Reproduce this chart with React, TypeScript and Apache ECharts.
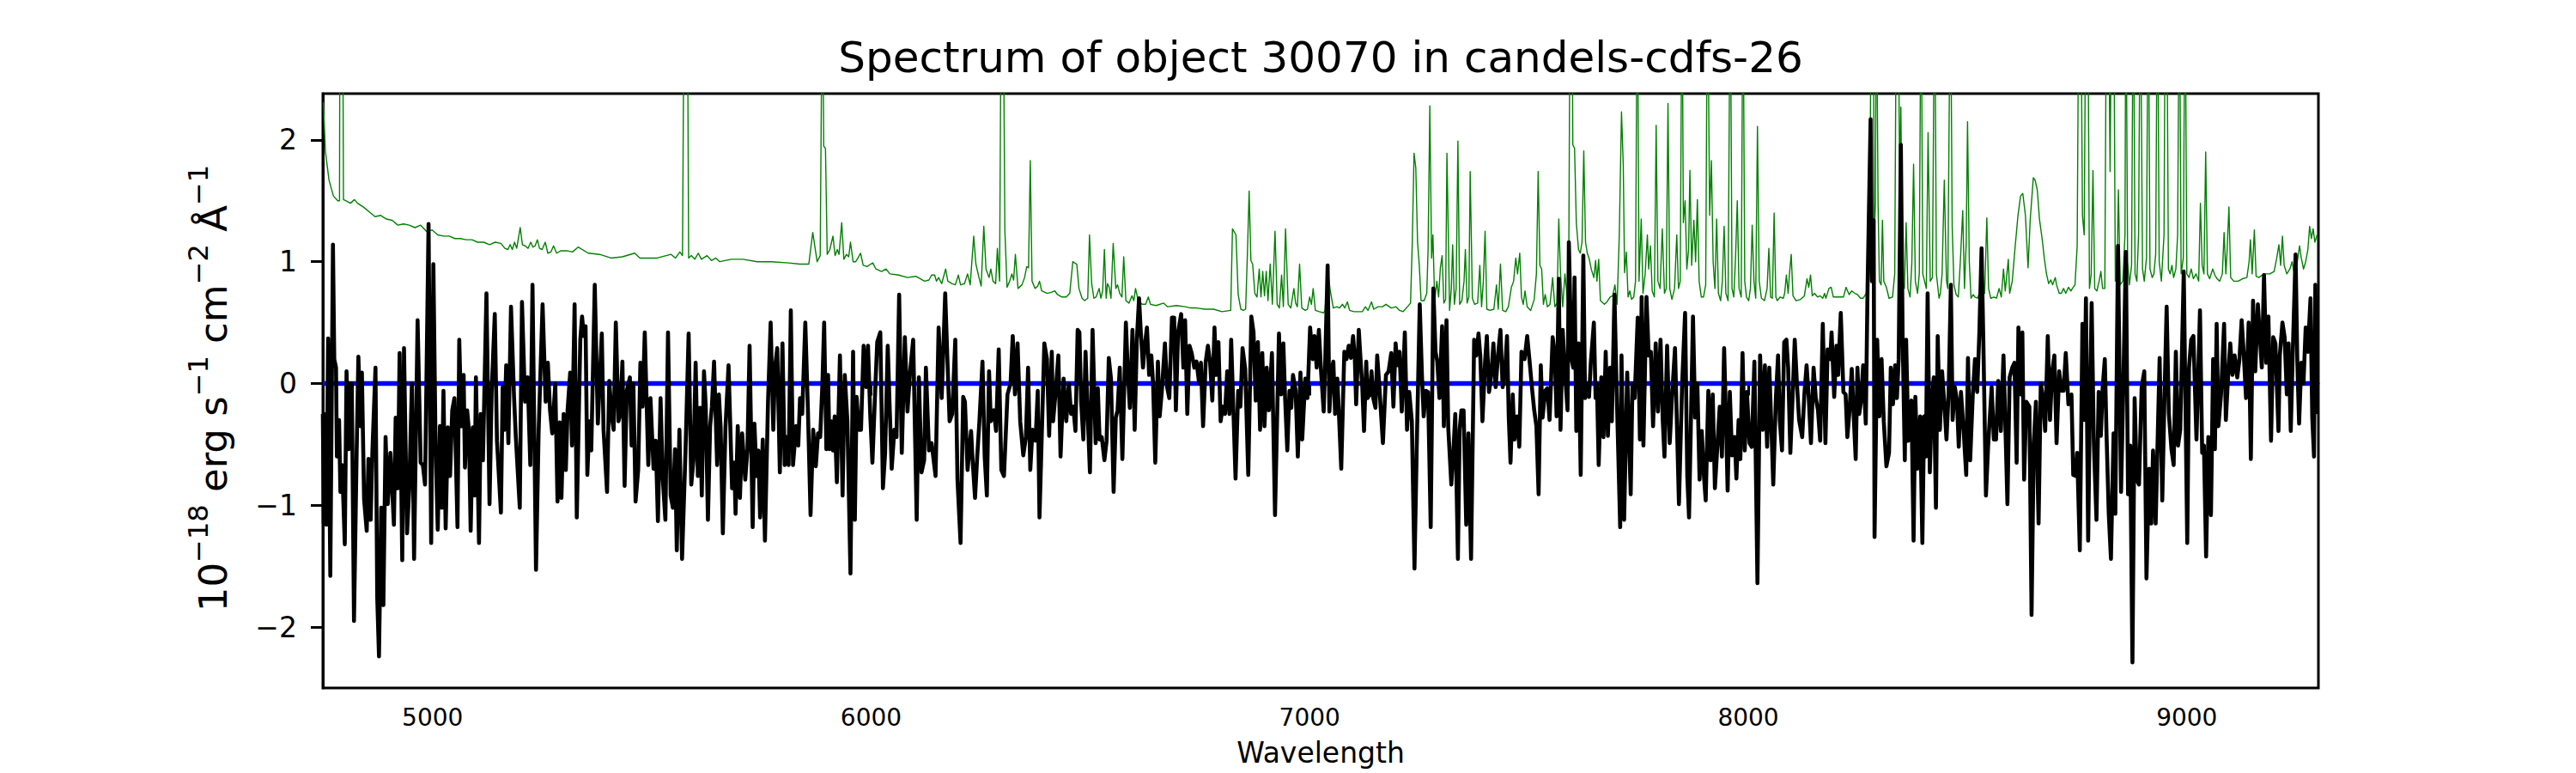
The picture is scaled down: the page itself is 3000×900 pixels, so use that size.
import React, { useEffect, useRef } from "react";
import * as echarts from "echarts";

const TITLE = "Spectrum of object 30070 in candels-cdfs-26";
const X_LABEL = "Wavelength";
const X_MIN = 4750;
const X_MAX = 9300;
const Y_MIN = -2.5;
const Y_MAX = 2.38;
const X_TICKS = [5000, 6000, 7000, 8000, 9000];
const Y_TICKS = [-2, -1, 0, 1, 2];
const ZERO_LEVEL = [[4750, 0], [9300, 0]];

// observed flux (black)
const fluxA = [[4750,-0.25],[4752,-1.15],[4756,-0.25],[4758,-1.16],[4762,0.37],[4767,-1.58],[4773,1.14],[4776,0.2],[4780,0.13],[4782,-0.6],[4787,-0.3],[4790,-0.89],[4794,-0.67],[4800,-1.32],[4804,0.10],[4809,-0.54],[4812,0.0],[4816,0.0],[4821,-1.95],[4827,-0.57],[4831,0.22],[4836,-0.35],[4839,0.09],[4844,-0.95],[4850,-1.21],[4854,-0.62],[4859,-1.12],[4863,-0.55],[4870,0.13],[4874,-1.76],[4878,-2.24],[4883,-1.02],[4888,-1.82],[4893,-0.44],[4898,-0.99],[4904,-0.57],[4912,-1.16],[4916,-0.28],[4921,-0.86],[4925,0.25],[4931,-1.45],[4935,0.29],[4942,-1.23],[4947,-0.86],[4953,0.0],[4958,-1.44],[4966,0.52],[4973,-0.65],[4978,-0.67],[4983,-0.83],[4991,1.31],[4997,-1.31],[5002,0.98],[5007,-0.51],[5012,-1.2],[5017,-0.35],[5021,-1.02],[5025,-0.06],[5030,-1.19],[5035,-0.36],[5040,-0.76],[5045,-0.22],[5050,-0.12],[5057,-1.18],[5061,0.36],[5066,-0.35],[5071,0.07],[5074,-0.69],[5079,-0.22],[5083,-0.38],[5087,-1.21],[5092,-0.36],[5096,-0.92],[5099,0.05],[5106,-1.31],[5110,-0.25],[5115,-0.63],[5123,0.74],[5130,-0.99],[5135,-0.06],[5142,0.57],[5147,-0.47],[5156,-1.06],[5160,-0.03],[5164,-0.38],[5168,0.15],[5173,-0.49],[5179,0.63],[5186,-0.12],[5190,-0.44],[5199,-1.02],[5204,0.67],[5211,-0.15],[5217,0.05],[5223,-0.67],[5228,0.81],[5236,-1.53],[5242,-0.39],[5251,0.65],[5258,-0.15],[5263,0.17],[5268,-0.22],[5273,-0.41],[5280,0],[5285,-0.97],[5290,-0.32],[5294,-0.94],[5299,-0.25],[5304,-0.71],[5308,-0.22],[5314,0.09],[5318,-0.51]];
const fluxB = [[5324,0.65],[5329,-1.1],[5337,0.36],[5341,0.55],[5345,0.39],[5349,0.47],[5353,-0.75],[5358,-0.31],[5362,-0.55],[5370,0.81],[5377,-0.33],[5386,0.41],[5390,-0.38],[5398,-0.89],[5403,0.02],[5409,-0.28],[5413,-0.38],[5418,0.50],[5424,-0.31],[5428,-0.25],[5433,0.18],[5438,-0.84],[5443,-0.06],[5450,0.05],[5454,-0.51],[5458,0.0],[5463,-0.97],[5469,-0.71],[5474,0.17],[5479,-0.19],[5484,0.42],[5492,-0.67],[5497,-0.12],[5504,-0.70],[5509,-0.47],[5514,-1.13],[5520,-0.12],[5525,-0.78],[5531,-1.12],[5537,0.42],[5543,-0.92],[5548,-1.02],[5553,-0.54],[5557,-1.37],[5563,-0.38],[5569,-1.44],[5577,-0.54],[5584,0.41],[5590,-0.83],[5595,-0.63],[5600,0.17],[5605,-0.76],[5610,-0.20],[5614,-0.92],[5619,0.10],[5623,-0.19],[5628,-1.12],[5633,-0.35],[5637,-0.19],[5642,0.18],[5649,-0.67],[5653,-0.09],[5657,-0.36],[5662,-1.23],[5668,-0.36],[5675,0.15],[5683,-0.86],[5688,-0.65],[5691,-1.07],[5696,-0.35],[5701,-0.94],[5706,-0.41],[5713,-0.79],[5718,-0.55],[5723,0.31],[5730,-1.18],[5734,-0.33],[5739,-0.76],[5743,-0.55],[5747,-1.10],[5753,-0.46],[5758,-1.29],[5765,-0.15],[5771,0.50],[5777,-0.38],[5781,0.13],[5786,0.29],[5792,-0.73],[5798,0.33],[5803,-0.67],[5807,-0.44],[5812,-0.67],[5817,0.60],[5822,-0.67],[5829,-0.35],[5834,-0.51],[5838,-0.12],[5843,-0.25],[5850,0.50],[5856,-0.22],[5862,-1.08],[5868,-0.38],[5874,-0.68],[5879,-0.41],[5884,-0.44],[5889,0.0],[5893,0.50],[5898,-0.54],[5902,0.07]];
const fluxC = [[5905,-0.54],[5910,-0.31],[5913,-0.55],[5917,-0.27],[5922,-0.81],[5929,0.23],[5935,-0.92],[5940,0.07],[5946,-0.31],[5953,-1.56],[5959,0.26],[5963,-1.12],[5967,-0.11],[5972,-0.38],[5977,-0.38],[5983,0.31],[5989,-0.03],[5993,0.31],[5998,-0.25],[6003,-0.65],[6010,0],[6014,0.34],[6021,0.42],[6027,-0.86],[6032,-0.57],[6038,0.31],[6042,-0.15],[6047,-0.70],[6053,-0.38],[6058,-0.44],[6064,0.73],[6070,-0.57],[6077,0.38],[6083,-0.23],[6089,0.10],[6096,0.36],[6104,-1.12],[6109,0.05],[6115,-0.73],[6121,-0.63],[6125,0.13],[6132,-0.55],[6138,-0.49],[6147,-0.76],[6154,0.46],[6161,-0.12],[6169,0.74],[6174,0.20],[6179,-0.31],[6185,-0.25],[6192,0.36],[6197,-0.79],[6204,-1.31],[6210,-0.11],[6214,-0.15],[6220,-0.71],[6228,-0.39],[6231,-0.60],[6237,-0.94],[6242,-0.60],[6247,-0.31],[6254,0.18],[6259,-0.60],[6264,-0.92],[6269,0.10],[6273,-0.31],[6280,-0.22],[6285,-0.39],[6291,0.28],[6297,-0.71],[6303,-0.76],[6311,-0.09],[6318,0],[6323,0.39],[6328,-0.09],[6334,0.33],[6340,-0.31],[6347,-0.59],[6353,-0.44],[6358,0.13],[6363,-0.71],[6368,-0.38],[6375,-0.47],[6380,-0.06],[6384,-1.10],[6395,0.33],[6401,0.20],[6406,-0.43],[6412,0.26],[6415,-0.31],[6421,-0.06],[6427,0.23],[6432,-0.60],[6439,0.04],[6445,-0.31],[6451,0],[6456,-0.25]];
const fluxD = [[6461,-0.19],[6466,-0.39],[6471,0.44],[6475,0.42],[6479,-0.15],[6484,-0.46],[6489,0.26],[6494,-0.27],[6499,-0.73],[6505,0.44],[6512,-0.49],[6517,-0.04],[6521,-0.46],[6526,-0.44],[6532,-0.63],[6537,-0.47],[6542,0.21],[6547,0.04],[6553,-0.89],[6558,-0.28],[6562,-0.22],[6567,0.13],[6573,-0.62],[6581,0.50],[6585,0.13],[6590,-0.20],[6596,0.44],[6601,-0.38],[6606,0.36],[6611,0.70],[6615,0.42],[6620,0.13],[6624,0.31],[6629,0.46],[6634,0.07],[6639,0.23],[6643,0],[6648,-0.65],[6654,0.18],[6658,-0.27],[6663,-0.06],[6670,0.33],[6675,-0.03],[6680,-0.12],[6686,0.54],[6691,0.54],[6695,-0.22],[6700,0.42],[6707,0.57],[6712,0.13],[6716,0.52],[6721,-0.25],[6726,0.31],[6731,0.25],[6737,0.13],[6742,0.18],[6748,0],[6752,0.17],[6757,-0.35],[6763,0.18],[6768,0.31],[6773,0.17],[6778,-0.14],[6783,0.46],[6787,0.07],[6792,0.34],[6797,-0.31],[6802,-0.19],[6807,-0.25],[6812,0.10],[6817,-0.25],[6821,0.36],[6825,-0.09],[6831,-0.78],[6837,-0.06],[6842,-0.19],[6847,0.29],[6853,0.12],[6860,-0.75],[6867,0.55],[6872,0.42],[6877,-0.14],[6882,0.34],[6887,-0.38],[6892,0.25],[6897,-0.35],[6902,0.13],[6907,-0.22],[6914,0.25],[6921,-1.08],[6930,0.41],[6935,-0.09],[6940,0.33],[6944,-0.12],[6949,-0.55],[6954,-0.06],[6958,-0.20],[6962,0.07],[6968,-0.06],[6973,-0.60],[6979,0.09],[6983,-0.46],[6990,0.04],[6995,-0.12],[7001,0.46],[7007,0.20],[7011,0.39],[7016,0.13],[7021,0.44],[7026,0.10]];
const fluxE = [[7032,-0.23],[7035,0.12],[7041,0.97],[7045,-0.23],[7050,0.10],[7054,0.18],[7058,-0.25],[7063,0.04],[7067,-0.27],[7072,-0.70],[7079,0.26],[7084,0.20],[7089,0.31],[7094,0.21],[7099,0.39],[7103,0.20],[7106,-0.17],[7112,0.44],[7116,0.20],[7120,-0.03],[7124,-0.39],[7129,0.18],[7132,-0.12],[7137,-0.09],[7141,0.10],[7145,-0.12],[7150,-0.20],[7154,0.23],[7159,-0.03],[7167,-0.49],[7174,0.07],[7180,0.10],[7186,0.25],[7191,-0.19],[7196,0.33],[7200,0.15],[7205,0.26],[7210,-0.23],[7217,0.42],[7222,-0.38],[7227,-0.07],[7233,-0.31],[7239,-1.52],[7244,-0.55],[7251,0.65],[7256,0.07],[7260,-0.27],[7265,-0.06],[7270,-0.07],[7276,-1.18],[7282,0.78],[7287,0.26],[7291,0.18],[7296,-0.12],[7302,0.47],[7306,-0.35],[7312,0.52],[7316,-0.36],[7323,-0.83],[7328,-0.54],[7332,-0.25],[7338,-1.44],[7342,-0.38],[7346,-0.22],[7351,-0.22],[7357,-1.16],[7362,-0.41],[7368,-1.44],[7375,0.36],[7380,0.23],[7385,0.41],[7389,0.23],[7394,-0.31],[7400,0.18],[7404,0.39],[7409,-0.07],[7414,0.07],[7419,0.33],[7424,-0.03],[7430,0.25],[7435,0.44],[7440,-0.03],[7445,0.07],[7450,0.39],[7454,-0.28],[7458,-0.65],[7463,-0.09],[7467,-0.46],[7473,-0.27],[7478,-0.52],[7483,0.26],[7490,0.20],[7496,0.39],[7501,0.20],[7507,-0.04],[7512,-0.22],[7517,-0.35],[7522,-0.91],[7527,0.15],[7531,-0.28],[7537,-0.06],[7542,-0.04],[7547,-0.30],[7554,0.38],[7559,0.23],[7563,-0.27],[7568,0.86],[7572,-0.38],[7577,0.44],[7582,0.10],[7588,-0.22],[7591,1.16],[7597,0.20]];
const fluxF = [[7601,0.13],[7604,0.87],[7608,-0.39],[7613,0.33],[7618,-0.75],[7624,1.05],[7628,-0.12],[7632,0],[7637,-0.11],[7641,0.17],[7648,0.50],[7652,-0.12],[7655,0],[7659,-0.67],[7665,0.05],[7670,-0.44],[7675,0.26],[7680,-0.43],[7685,0.13],[7689,-0.31],[7695,0.73],[7700,-0.06],[7708,-1.18],[7711,0.23],[7717,-1.12],[7724,0.09],[7732,-0.91],[7736,0],[7741,-0.12],[7748,0.54],[7753,-0.46],[7757,0.71],[7761,-0.51],[7768,0.71],[7773,0.23],[7778,0.26],[7783,-0.35],[7789,0.33],[7794,-0.23],[7800,0.36],[7805,-0.30],[7809,-0.60],[7815,0.31],[7821,-0.49],[7826,-0.12],[7833,0.29],[7842,-0.99],[7849,-0.03],[7856,0.58],[7861,-0.76],[7865,-1.10],[7874,0.55],[7879,-0.28],[7884,0],[7889,-0.79],[7894,-0.39],[7899,-0.76],[7903,-0.96],[7909,-0.06],[7914,-0.63],[7919,-0.09],[7924,-0.86],[7929,-0.55],[7935,-0.19],[7940,-0.60],[7945,0.29],[7949,-0.25],[7953,-0.88],[7958,-0.07],[7963,-0.59],[7969,-0.44],[7973,-0.78],[7978,-0.30],[7982,-0.62],[7987,0.25],[7992,-0.55],[7997,-0.07],[8003,-0.49],[8008,-0.52],[8014,0.18],[8021,-1.64],[8027,0.23],[8033,-0.38],[8038,0.15],[8043,-0.52],[8048,0.13],[8053,-0.38],[8057,-0.83],[8063,-0.12],[8068,0.23],[8072,-0.31],[8077,-0.55],[8082,0.34],[8087,0.36],[8091,0.13],[8096,-0.57],[8102,-0.03],[8106,0.36],[8111,0],[8116,-0.30],[8123,-0.44],[8128,-0.09],[8133,0.15],[8138,-0.12],[8143,-0.49],[8149,0.13],[8154,-0.12],[8159,-0.22],[8164,-0.47],[8170,0.49]];
const fluxG = [[8176,-0.49],[8181,0.28],[8187,0.20],[8190,0.42],[8196,-0.11],[8201,0.31],[8205,0.07],[8211,0.58],[8217,-0.07],[8222,-0.09],[8226,-0.44],[8231,-0.22],[8236,0.12],[8241,-0.31],[8245,-0.62],[8249,0.13],[8253,-0.25],[8257,-0.15],[8262,0.15],[8268,-0.33],[8272,0.78],[8279,2.17],[8282,0.84],[8286,1.34],[8288,-1.26],[8294,0.36],[8299,-0.27],[8304,0.20],[8309,-0.31],[8315,-0.68],[8321,-0.57],[8325,0.13],[8330,-0.17],[8335,0.15],[8339,-0.12],[8343,0.20],[8348,1.96],[8352,0.39],[8357,-0.63],[8360,0.36],[8365,-0.47],[8372,-0.14],[8377,-1.29],[8381,-0.11],[8386,-0.70],[8392,-0.27],[8397,-1.31],[8401,-0.27],[8405,-0.60],[8409,0.74],[8414,-0.73],[8419,-0.12],[8423,0.05],[8428,-1.02],[8432,0.39],[8437,-0.38],[8442,0.10],[8448,-0.22],[8452,-0.46],[8457,-0.06],[8462,0.81],[8466,-0.30],[8471,-0.03],[8476,-0.14],[8480,-0.52],[8485,-0.07],[8491,-0.38],[8497,-0.75],[8501,0.21],[8506,-0.63],[8512,-0.09],[8517,0.20],[8522,-0.07],[8527,0.42],[8532,1.11],[8536,0.36],[8542,-0.92],[8547,-0.51],[8555,-0.03],[8560,-0.46],[8565,-0.46],[8570,0.02],[8576,-0.39],[8582,0.23],[8586,-0.31],[8591,-0.99],[8596,0.05],[8602,0.13],[8607,0.17],[8612,-0.65],[8616,0.46],[8621,-0.09],[8625,0.42],[8629,-0.79],[8634,-0.15],[8641,-0.19],[8646,-1.90],[8651,-0.49],[8656,-0.15],[8662,-1.15],[8667,0],[8672,-0.12],[8677,-0.39],[8683,0.39],[8688,-0.30],[8693,0.10],[8698,0.23],[8703,-0.49],[8709,0.10],[8714,-0.06],[8719,-0.06],[8724,0.25],[8730,-0.17]];
const fluxH = [[8737,-0.09],[8741,-0.75],[8747,-0.76],[8750,-0.57],[8756,-1.37],[8762,0.49],[8766,-0.30],[8770,0.70],[8775,-1.29],[8779,-0.19],[8783,0.66],[8788,-0.49],[8794,-1.12],[8799,-0.07],[8804,-0.43],[8808,-0.04],[8813,0.20],[8817,-0.43],[8822,-1.07],[8827,-1.44],[8833,-0.41],[8837,-1.07],[8843,1.13],[8850,-0.89],[8855,-0.06],[8861,1.08],[8866,-0.91],[8871,-0.51],[8876,-2.29],[8881,-0.12],[8886,-0.79],[8891,-0.83],[8897,-0.03],[8903,0.10],[8908,-1.60],[8914,-0.70],[8919,-1.15],[8923,-0.55],[8929,-1.15],[8934,-0.38],[8938,0.21],[8944,-0.96],[8949,-0.12],[8954,0.63],[8959,-0.25],[8965,-0.54],[8970,-0.67],[8975,0.26],[8980,-0.51],[8985,-0.38],[8993,0.92],[9001,-1.31],[9005,0.13],[9010,0.36],[9015,0.39],[9022,-0.46],[9030,0.60],[9035,-0.57],[9039,-0.51],[9044,-1.42],[9049,-0.44],[9055,-1.08],[9060,0.20],[9064,-0.54],[9068,0.49],[9072,-0.35],[9078,-0.09],[9085,0.49],[9089,-0.30],[9094,0.05],[9099,0.33],[9104,0.07],[9109,0.23],[9115,0.05],[9120,0.20],[9125,0.52],[9130,0.23],[9135,-0.12],[9141,0.50],[9146,-0.62],[9151,0.68],[9156,0.10],[9162,0.65],[9166,0.42],[9171,0.13],[9176,0.89],[9181,0.17],[9186,0.55],[9192,-0.47],[9197,0.38],[9202,0.33],[9209,-0.39],[9212,0.23],[9218,0.50],[9223,0.38],[9228,-0.09],[9232,0.33],[9237,-0.39],[9242,0.31],[9248,1.06],[9252,0.17],[9256,-0.33],[9261,0.17],[9266,0],[9271,0.46],[9276,0.26],[9282,0.70],[9286,-0.28],[9290,-0.60],[9293,0.81],[9297,-0.25]];

// sky / noise spectrum (green); 3.5 marks lines that leave the top of the panel
const skyA = [[4751,2.31],[4756,1.9],[4764,1.67],[4774,1.54],[4784,1.5],[4788,1.5],[4789,3.5],[4795,3.5],[4797,1.51],[4803,1.50],[4813,1.48],[4822,1.51],[4829,1.48],[4842,1.45],[4859,1.40],[4869,1.37],[4882,1.38],[4895,1.35],[4908,1.34],[4921,1.30],[4934,1.31],[4947,1.30],[4960,1.28],[4973,1.30],[4986,1.25],[4999,1.26],[5012,1.22],[5025,1.21],[5038,1.21],[5051,1.19],[5064,1.19],[5077,1.18],[5090,1.18],[5103,1.16],[5117,1.16],[5130,1.14],[5143,1.16],[5156,1.15],[5165,1.11],[5172,1.10],[5177,1.14],[5182,1.10],[5187,1.16],[5192,1.11],[5200,1.28],[5205,1.14],[5211,1.13],[5218,1.11],[5224,1.16],[5229,1.12],[5234,1.13],[5239,1.18],[5244,1.11],[5250,1.10],[5257,1.16],[5263,1.07],[5270,1.08],[5276,1.13],[5283,1.07],[5293,1.09],[5306,1.09],[5319,1.08]];
const skyB = [[5332,1.12],[5355,1.07],[5381,1.06],[5407,1.03],[5433,1.04],[5461,1.07],[5473,1.03],[5512,1.03],[5544,1.06],[5554,1.03],[5564,1.08],[5570,1.05],[5574,3.5],[5581,3.5],[5584,1.03],[5590,1.05],[5598,1.02],[5606,1.07],[5613,1.02],[5626,1.05],[5636,1.01],[5646,1.03],[5655,1.0],[5681,1.02],[5708,1.02],[5740,1.0],[5773,1.0],[5812,0.99],[5838,0.98],[5858,0.98],[5867,1.24],[5877,1.0],[5884,1.05],[5889,3.5],[5892,1.95],[5896,1.93]];
const skyC = [[5900,1.06],[5906,1.10],[5913,1.21],[5918,1.05],[5923,1.10],[5927,1.06],[5933,1.32],[5938,1.02],[5944,1.06],[5949,1.04],[5953,1.16],[5959,1.0],[5965,1.0],[5970,1.03],[5976,1.07],[5982,0.97],[5991,0.96],[5999,0.98],[6004,0.99],[6011,0.94],[6024,0.92],[6034,0.94],[6043,0.90],[6063,0.89],[6083,0.87],[6102,0.88],[6122,0.84],[6132,0.85],[6138,0.89],[6145,0.89],[6149,0.84],[6154,0.87],[6161,0.82],[6170,0.94],[6175,0.84],[6184,0.82],[6192,0.81],[6199,0.89],[6204,0.81],[6213,0.82],[6220,0.90],[6226,0.81],[6234,1.21],[6239,0.98],[6246,0.87],[6251,0.80],[6257,1.29],[6262,0.94],[6269,0.87],[6273,0.94],[6278,0.84],[6284,0.82],[6288,1.11],[6293,0.84],[6297,3.5],[6301,3.5],[6305,1.26],[6310,0.79],[6316,0.84],[6321,0.90],[6325,0.85],[6329,1.06],[6335,0.78],[6344,0.81],[6350,0.87],[6355,0.96],[6359,0.95],[6363,1.83],[6367,0.84],[6374,0.78],[6380,0.80],[6384,0.84],[6389,0.76],[6402,0.74],[6412,0.75],[6419,0.76],[6425,0.73],[6435,0.71],[6445,0.71],[6453,0.74],[6460,1.0],[6464,0.99]];
const skyD = [[6469,0.98],[6474,0.78],[6481,0.70],[6487,0.68],[6494,0.70],[6498,1.22],[6503,0.82],[6508,0.70],[6513,0.71],[6520,0.78],[6524,0.70],[6528,0.76],[6532,1.10],[6536,0.70],[6539,0.82],[6543,0.79],[6547,0.70],[6552,1.15],[6558,0.78],[6562,0.81],[6567,0.74],[6572,0.71],[6576,1.04],[6581,0.68],[6588,0.66],[6595,0.72],[6599,0.68],[6603,0.78],[6609,0.68],[6618,0.65],[6626,0.65],[6632,0.71],[6637,0.65],[6650,0.64],[6667,0.66],[6676,0.63],[6696,0.64],[6716,0.63],[6729,0.62],[6742,0.62],[6761,0.61],[6781,0.61],[6800,0.59],[6820,0.60],[6824,1.27],[6832,1.22],[6837,0.73],[6843,0.61],[6849,0.60],[6854,0.61],[6858,1.06],[6862,1.58],[6866,1.01],[6870,0.98],[6875,0.74],[6880,0.71],[6885,0.94],[6889,0.71],[6893,0.92],[6897,0.72],[6901,0.92],[6905,0.68],[6910,0.98],[6915,0.65],[6921,1.25],[6926,0.65],[6931,0.62],[6936,0.89],[6940,0.63],[6945,1.27],[6951,0.65],[6957,0.62],[6964,0.78],[6968,0.66],[6972,0.63],[6977,0.98],[6982,0.62],[6990,0.60],[6995,0.61],[7000,0.71],[7004,0.65],[7008,0.78],[7013,0.60],[7022,0.59],[7032,0.58]];
const skyE = [[7035,0.60],[7041,0.94],[7047,0.76],[7054,0.62],[7062,0.63],[7068,0.62],[7075,0.65],[7080,0.62],[7086,0.67],[7091,0.60],[7101,0.59],[7110,0.59],[7120,0.59],[7127,0.63],[7133,0.60],[7141,0.67],[7146,0.61],[7156,0.63],[7166,0.63],[7174,0.65],[7186,0.62],[7197,0.63],[7205,0.60],[7213,0.59],[7223,0.63],[7230,0.66],[7234,1.16],[7238,1.89],[7242,1.77],[7246,1.16],[7250,0.97],[7254,0.68],[7261,0.68],[7267,0.74],[7270,1.10],[7274,2.28],[7278,1.03],[7281,1.22],[7285,0.68],[7290,0.84],[7294,0.71],[7298,0.95],[7302,1.05],[7306,0.66],[7310,0.69],[7313,1.89],[7319,0.60],[7323,0.78],[7326,1.14],[7330,0.65],[7334,0.78],[7338,1.99],[7342,0.65],[7347,0.68],[7352,0.84],[7355,1.10],[7359,0.66],[7363,0.71],[7366,1.74],[7371,0.70],[7376,0.65],[7383,0.66],[7388,0.97],[7392,0.63],[7396,0.84],[7400,1.25],[7404,0.61],[7411,0.60],[7420,0.61],[7426,0.81],[7430,0.61],[7435,0.98],[7440,0.60],[7447,0.59],[7453,0.63],[7460,0.79],[7465,0.84],[7470,1.03],[7474,0.90],[7479,1.07],[7483,0.71],[7487,0.65],[7491,0.76],[7496,0.63],[7504,0.60],[7512,0.69],[7517,0.90],[7521,1.74],[7525,0.97],[7529,0.94],[7533,0.65],[7537,0.73],[7542,0.63],[7548,0.65],[7554,0.87],[7559,0.63],[7564,0.66],[7568,1.35],[7572,0.90],[7577,0.63],[7582,0.90],[7588,0.68],[7591,1.16],[7594,3.5],[7598,3.5]];
const skyF = [[7600,1.96],[7604,1.93],[7608,1.32],[7613,1.10],[7617,1.07],[7621,1.16],[7625,1.91],[7629,1.16],[7633,1.07],[7637,1.03],[7642,0.94],[7648,0.87],[7652,1.01],[7655,0.84],[7659,1.02],[7663,0.68],[7672,0.65],[7678,0.67],[7685,0.71],[7691,0.72],[7696,0.81],[7701,0.65],[7706,1.22],[7711,2.23],[7715,1.80],[7718,0.91],[7722,1.08],[7726,0.71],[7730,0.76],[7734,0.69],[7739,0.71],[7743,0.84],[7747,3.5],[7751,0.84],[7756,1.35],[7760,0.74],[7765,0.90],[7770,1.22],[7773,0.94],[7777,1.13],[7781,0.76],[7786,0.71],[7790,2.12],[7794,0.84],[7799,0.78],[7804,1.27],[7809,0.74],[7813,0.78],[7817,2.30],[7821,0.78],[7826,0.69],[7832,0.78],[7837,1.22],[7841,0.78],[7845,0.84],[7849,3.5],[7852,1.32],[7856,1.50],[7860,0.94],[7864,1.10],[7867,1.75],[7871,0.97],[7876,1.34],[7880,1.00],[7884,1.51],[7888,0.84],[7893,0.71],[7898,0.71],[7903,0.81],[7907,3.5],[7912,1.38],[7916,1.83],[7920,1.00],[7924,0.78],[7928,1.35],[7932,0.74],[7937,0.68],[7941,0.84],[7945,1.29],[7949,0.74],[7954,0.68],[7959,3.5],[7963,0.78],[7967,0.71],[7971,1.03],[7975,1.50],[7979,0.78],[7984,0.71],[7988,3.5],[7992,0.84],[7996,0.71],[8001,0.68],[8005,0.78],[8009,1.30],[8013,0.84],[8017,0.70],[8021,2.11],[8025,0.84],[8030,0.70],[8037,0.68],[8043,0.78],[8047,1.11],[8051,0.71],[8055,0.70],[8059,1.40],[8063,0.71],[8066,0.68],[8073,0.71],[8080,0.70],[8083,0.74],[8087,0.89],[8091,0.74],[8094,0.90],[8098,1.06],[8102,0.72],[8109,0.68],[8119,0.69],[8128,0.72],[8134,0.86],[8138,0.79],[8142,0.89],[8146,0.72],[8151,0.74],[8158,0.71],[8164,0.72]];
const skyG = [[8170,0.70],[8174,0.74],[8177,0.70],[8184,0.78],[8189,0.79],[8194,0.71],[8200,0.71],[8210,0.71],[8217,0.71],[8223,0.79],[8230,0.73],[8236,0.76],[8243,0.74],[8249,0.73],[8256,0.70],[8262,0.70],[8269,0.74],[8273,0.90],[8277,1.38],[8281,3.5],[8285,3.5],[8287,1.16],[8290,1.48],[8292,3.5],[8296,1.48],[8299,0.84],[8303,0.81],[8306,1.34],[8309,0.84],[8315,0.79],[8321,0.70],[8329,0.71],[8334,0.90],[8338,3.5],[8342,3.5],[8345,1.64],[8348,2.27],[8352,0.84],[8356,0.78],[8360,1.32],[8364,0.78],[8369,0.71],[8373,0.99],[8377,1.80],[8381,0.84],[8386,0.74],[8390,0.90],[8394,3.5],[8398,0.90],[8402,0.84],[8406,0.78],[8410,2.06],[8415,0.84],[8420,0.87],[8425,3.5],[8429,0.90],[8435,0.70],[8438,0.74],[8442,0.90],[8447,1.67],[8452,0.84],[8455,0.78],[8461,3.5],[8465,1.29],[8469,0.81],[8474,0.73],[8479,0.71],[8484,1.03],[8489,1.42],[8493,0.78],[8497,1.16],[8500,2.15],[8504,1.00],[8508,0.70],[8513,0.73],[8517,0.71],[8523,0.70],[8530,0.78],[8535,0.84],[8539,0.74],[8544,1.36],[8548,0.78],[8553,0.70],[8560,0.71],[8566,0.70],[8572,0.78],[8577,0.71],[8582,0.94],[8586,0.76],[8593,1.02],[8596,0.74],[8602,0.84],[8608,1.10],[8615,1.38],[8621,1.54],[8626,1.56],[8632,1.38],[8638,0.95],[8643,1.35],[8650,1.69],[8654,1.67],[8659,1.59],[8664,1.35],[8670,1.19],[8675,1.03],[8680,0.90],[8685,0.82],[8690,0.85],[8694,0.81],[8700,0.87],[8703,0.81],[8709,0.74],[8714,0.74],[8719,0.78],[8724,0.74],[8730,0.79],[8736,0.76]];
const skyH = [[8739,0.78],[8745,0.81],[8750,1.13],[8754,3.5],[8758,3.5],[8762,1.38],[8766,1.22],[8770,3.5],[8774,3.5],[8778,0.78],[8782,0.90],[8786,1.75],[8790,0.78],[8795,0.76],[8800,0.84],[8804,0.92],[8808,0.78],[8813,0.78],[8817,3.5],[8821,3.5],[8825,1.74],[8829,3.5],[8833,3.5],[8837,0.84],[8841,0.94],[8844,1.59],[8848,0.81],[8854,0.84],[8859,1.22],[8861,3.5],[8865,1.00],[8869,0.81],[8874,0.97],[8878,3.5],[8882,0.90],[8886,0.84],[8890,1.22],[8894,3.5],[8899,0.94],[8903,0.84],[8908,1.03],[8912,3.5],[8916,0.94],[8921,0.87],[8925,0.90],[8929,1.06],[8933,3.5],[8937,1.00],[8942,0.84],[8948,1.22],[8951,3.5],[8954,3.5],[8958,0.94],[8962,0.90],[8966,0.97],[8970,0.87],[8975,0.94],[8979,1.22],[8983,3.5],[8987,0.90],[8992,1.03],[8996,3.5],[9000,0.90],[9005,0.87],[9010,0.94],[9015,0.86],[9021,0.90],[9027,0.84],[9031,1.48],[9035,0.97],[9039,0.90],[9043,1.90],[9047,0.90],[9052,0.86],[9059,0.94],[9064,0.89],[9069,0.86],[9075,0.84],[9081,0.90],[9085,1.24],[9089,0.90],[9092,1.10],[9096,1.45],[9100,0.87],[9107,0.84],[9117,0.84],[9127,0.86],[9137,0.87],[9142,1.00],[9145,1.18],[9149,0.90],[9154,1.26],[9158,0.88],[9164,0.87],[9176,0.90],[9189,0.90],[9199,0.92],[9205,1.03],[9210,1.14],[9214,0.97],[9218,1.21],[9222,0.97],[9228,0.90],[9235,0.94],[9240,1.00],[9245,0.90],[9252,1.00],[9257,1.13],[9261,1.03],[9266,0.94],[9271,1.00],[9276,1.10],[9280,1.29],[9284,1.19],[9288,1.27],[9292,1.16],[9297,1.22]];

const FONT = "DejaVu Sans";
const minus = (v: number) => (v < 0 ? "\u2212" + Math.abs(v) : String(v));

export default function App() {
  const ref = useRef<HTMLDivElement>(null);
  useEffect(() => {
    document.body.style.margin = "0";
    const chart = echarts.init(ref.current!, null, { renderer: "svg" });
    const flux = [...fluxA, ...fluxB, ...fluxC, ...fluxD, ...fluxE, ...fluxF, ...fluxG, ...fluxH];
    const sky = [...skyA, ...skyB, ...skyC, ...skyD, ...skyE, ...skyF, ...skyG, ...skyH];
    chart.setOption({
      animation: false,
      backgroundColor: "#ffffff",
      textStyle: { fontFamily: FONT, color: "#000" },
      grid: { left: 376, right: 300, top: 109, bottom: 99, show: true, borderColor: "#000", borderWidth: 3, backgroundColor: "transparent" },
      xAxis: {
        type: "value", min: X_MIN, max: X_MAX,
        axisLine: { show: true, lineStyle: { color: "#000", width: 3 } },
        axisTick: { show: true, length: 14, lineStyle: { color: "#000", width: 3 }, customValues: X_TICKS },
        axisLabel: { customValues: X_TICKS, fontSize: 28, color: "#000", margin: 20, fontFamily: FONT, formatter: (v: number) => String(v) },
        splitLine: { show: false },
      },
      yAxis: {
        type: "value", min: Y_MIN, max: Y_MAX,
        axisLine: { show: true, lineStyle: { color: "#000", width: 3 } },
        axisTick: { show: true, length: 14, lineStyle: { color: "#000", width: 3 }, customValues: Y_TICKS },
        axisLabel: { customValues: Y_TICKS, fontSize: 33, color: "#000", margin: 30, fontFamily: FONT, formatter: (v: number) => minus(v) },
        splitLine: { show: false },
      },
      series: [
        { type: "line", data: sky, symbol: "none", clip: true, lineStyle: { color: "#008000", width: 1.4, join: "round" }, z: 2 },
        { type: "line", data: ZERO_LEVEL, symbol: "none", clip: true, lineStyle: { color: "#0000ff", width: 5.5 }, z: 3 },
        { type: "line", data: flux, symbol: "none", clip: true, lineStyle: { color: "#000000", width: 4.6, join: "round" }, z: 4 },
      ],
      graphic: [
        { type: "text", x: 1538, y: 67, style: { text: TITLE, fontFamily: FONT, fontSize: 50, fill: "#000", align: "center", verticalAlign: "middle" } },
        { type: "text", x: 1538, y: 876, style: { text: X_LABEL, fontFamily: FONT, fontSize: 33, fill: "#000", align: "center", verticalAlign: "middle" } },
        {
          type: "text", x: 243, y: 452, rotation: Math.PI / 2,
          style: {
            text: "{b|10}{s|\u221218}{b| erg s}{s|\u22121}{b| cm}{s|\u22122}{b| \u00c5}{s|\u22121}",
            fontFamily: FONT, fontSize: 45, fill: "#000", align: "center", verticalAlign: "middle",
            rich: {
              b: { fontFamily: FONT, fontSize: 45, lineHeight: 56, verticalAlign: "bottom", fill: "#000" },
              s: { fontFamily: FONT, fontSize: 32, lineHeight: 32, verticalAlign: "top", fill: "#000" },
            },
          },
        },
      ],
    });
    return () => chart.dispose();
  }, []);
  return <div ref={ref} style={{ position: "absolute", left: 0, top: 0, width: 3000, height: 900 }} />;
}
